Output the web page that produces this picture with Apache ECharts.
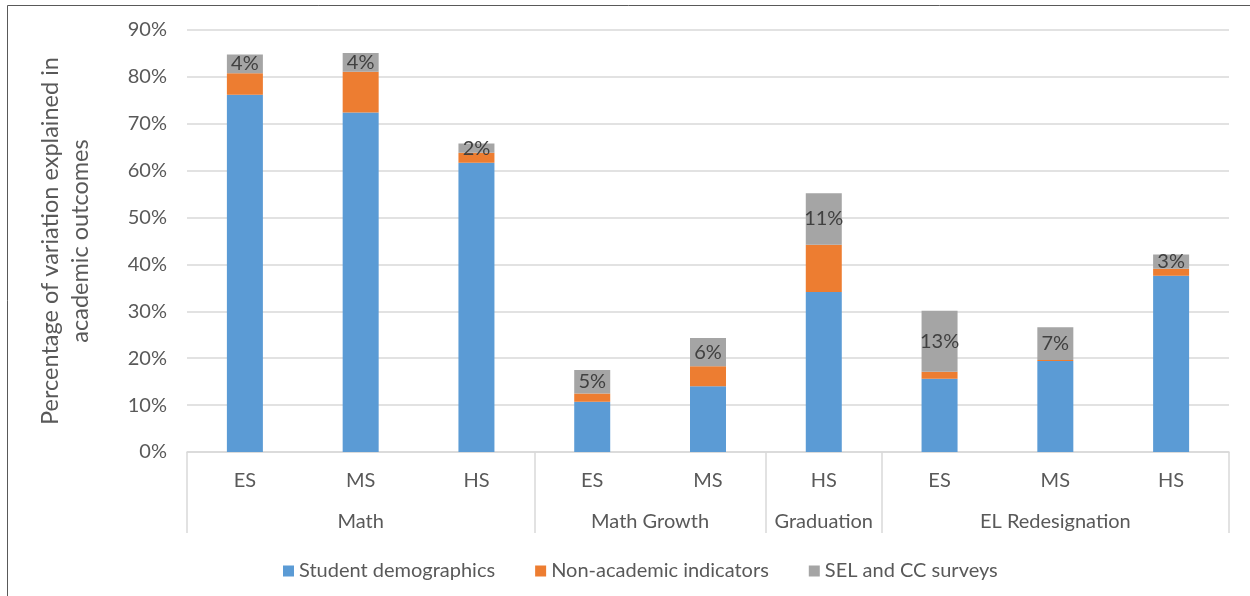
<!DOCTYPE html>
<html>
<head>
<meta charset="utf-8">
<script src="https://cdn.jsdelivr.net/npm/echarts@6/dist/echarts.min.js"></script>
<style>
  html, body { margin: 0; padding: 0; background: #fff; }
  #chart { width: 1250px; height: 596px; }
</style>
</head>
<body>
<div id="chart"></div>
<script>
// School levels, one per bar
const levels = ['ES', 'MS', 'HS', 'ES', 'MS', 'HS', 'ES', 'MS', 'HS'];
// Outcome groups and how many bars each spans
const groups = ['Math', 'Math Growth', 'Graduation', 'EL Redesignation'];
const groupSizes = [3, 2, 1, 3];

// Percentage of variation explained, stacked by predictor set
const demographics = [76.2, 72.4, 61.7, 10.7, 14.0, 34.1, 15.6, 19.4, 37.6];
const nonAcademic  = [4.6, 8.7, 2.1, 1.8, 4.3, 10.1, 1.5, 0.2, 1.5];
const selSurveys   = [4, 4, 2, 5, 6, 11, 13, 7, 3];

const seriesNames = ['Student demographics', 'Non-academic indicators', 'SEL and CC surveys'];
const yTicks = { min: 0, max: 90, interval: 10 };

const FONT = 'Lato, "Open Sans", sans-serif';
const TEXT = '#595959';
const GRID_LINE = '#D9D9D9';

// Half-slot positions (two per bar) for the group row: separators and label centres
const slotCount = levels.length * 2 + 1;
const slotLabels = new Array(slotCount).fill('');
const separatorSlots = [0];
let start = 0;
groups.forEach((g, i) => {
  const end = start + groupSizes[i] * 2;
  slotLabels[(start + end) / 2] = g;
  separatorSlots.push(end);
  start = end;
});
const slotData = slotLabels.map((_, i) => 's' + i);

const chart = echarts.init(document.getElementById('chart'), null, { renderer: 'canvas' });

const labelStyle = { fontFamily: FONT, fontSize: 20, color: TEXT };

chart.setOption({
  animation: false,
  textStyle: { fontFamily: FONT },
  color: ['#5B9BD5', '#ED7D31', '#A5A5A5'],
  grid: { left: 187, right: 21, top: 30, bottom: 144, containLabel: false },
  legend: {
    data: seriesNames,
    top: 556,
    left: 278,
    icon: 'rect',
    itemWidth: 11,
    itemHeight: 11,
    itemGap: 40,
    textStyle: { fontFamily: FONT, fontSize: 20, color: TEXT }
  },
  xAxis: [
    {
      type: 'category',
      position: 'bottom',
      data: levels,
      axisLine: { show: true, lineStyle: { color: GRID_LINE, width: 1.5 } },
      axisTick: { show: false },
      axisLabel: Object.assign({ margin: 19, interval: 0 }, labelStyle)
    },
    {
      type: 'category',
      position: 'bottom',
      boundaryGap: false,
      data: slotData,
      axisLine: { show: false },
      axisTick: {
        show: true,
        length: 81,
        interval: (idx) => separatorSlots.includes(idx),
        lineStyle: { color: GRID_LINE, width: 1.5 }
      },
      axisLabel: Object.assign({
        margin: 60,
        interval: (idx) => slotLabels[idx] !== '',
        formatter: (val) => slotLabels[slotData.indexOf(val)]
      }, labelStyle),
      splitLine: { show: false }
    }
  ],
  yAxis: {
    type: 'value',
    min: yTicks.min,
    max: yTicks.max,
    interval: yTicks.interval,
    name: 'Percentage of variation explained in\nacademic outcomes',
    nameLocation: 'middle',
    nameGap: 92,
    nameTextStyle: { fontFamily: FONT, fontSize: 23.5, color: TEXT, lineHeight: 29.5 },
    axisLine: { show: false },
    axisTick: { show: false },
    axisLabel: Object.assign({ margin: 20, formatter: '{value}%' }, labelStyle),
    splitLine: { lineStyle: { color: GRID_LINE, width: 1.5 } }
  },
  series: [
    {
      name: seriesNames[0], type: 'bar', stack: 'total', barWidth: 36,
      xAxisIndex: 0, data: demographics
    },
    {
      name: seriesNames[1], type: 'bar', stack: 'total', barWidth: 36,
      xAxisIndex: 0, data: nonAcademic
    },
    {
      name: seriesNames[2], type: 'bar', stack: 'total', barWidth: 36,
      xAxisIndex: 0, data: selSurveys,
      label: {
        show: true,
        position: 'inside',
        formatter: (p) => p.value + '%',
        fontFamily: FONT,
        fontSize: 20,
        color: '#404040'
      }
    }
  ],
  graphic: [
    {
      type: 'polyline',
      shape: { points: [[7.5, 596], [7.5, 5.5], [1250, 5.5]] },
      style: { stroke: '#595959', lineWidth: 1, fill: null },
      silent: true
    }
  ]
});
</script>
</body>
</html>
